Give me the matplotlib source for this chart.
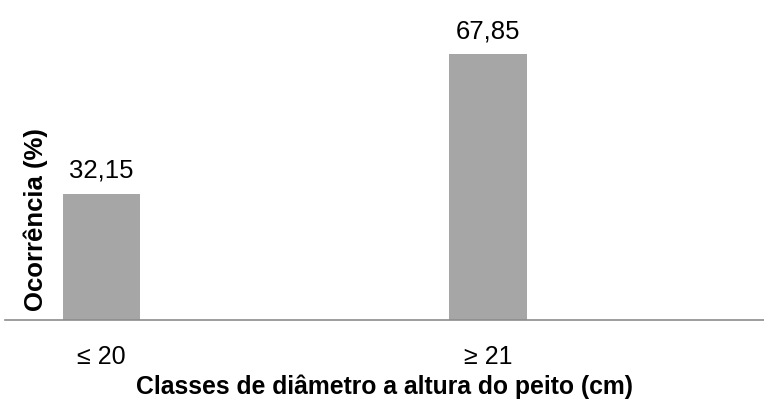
import numpy as np
import matplotlib.pyplot as plt

plt.rcParams['font.family'] = ['Liberation Sans', 'DejaVu Sans']

# Ocorrência por classe de DAP
classes = ['≤ 20', '≥ 21']
ocorrencia = [32.15, 67.85]
rotulos = ['32,15', '67,85']

fig = plt.figure(figsize=(7.64, 3.99), dpi=100)
ax = fig.add_axes([5 / 764, 79 / 399, 759 / 764, 313.6 / 399])

x = np.arange(len(classes))
ax.bar(x, ocorrencia, width=0.2, color='#a6a6a6')

for xi, val, txt in zip(x, ocorrencia, rotulos):
    ax.annotate(txt, (xi, val), xytext=(0, 11.5), textcoords='offset points',
                ha='center', va='baseline', fontsize=18.5, color='black')

ax.set_xlim(-0.25, 1.714)
ax.set_ylim(0, 80)
ax.set_xticks(x)
ax.set_xticklabels(classes, fontsize=18)
ax.tick_params(axis='x', length=0, pad=18)
ax.set_yticks([])

for s in ['top', 'right', 'left']:
    ax.spines[s].set_visible(False)
ax.spines['bottom'].set_color('#8c8c8c')
ax.spines['bottom'].set_linewidth(1.2)

ax.set_xlabel('Classes de diâmetro a altura do peito (cm)', fontsize=17.8,
              fontweight='bold', labelpad=4)
ax.set_ylabel('Ocorrência (%)', fontsize=18.5, fontweight='bold', va='center')
ax.yaxis.set_label_coords(0.041, 0.319)

fig.savefig('out.png', dpi=100)
